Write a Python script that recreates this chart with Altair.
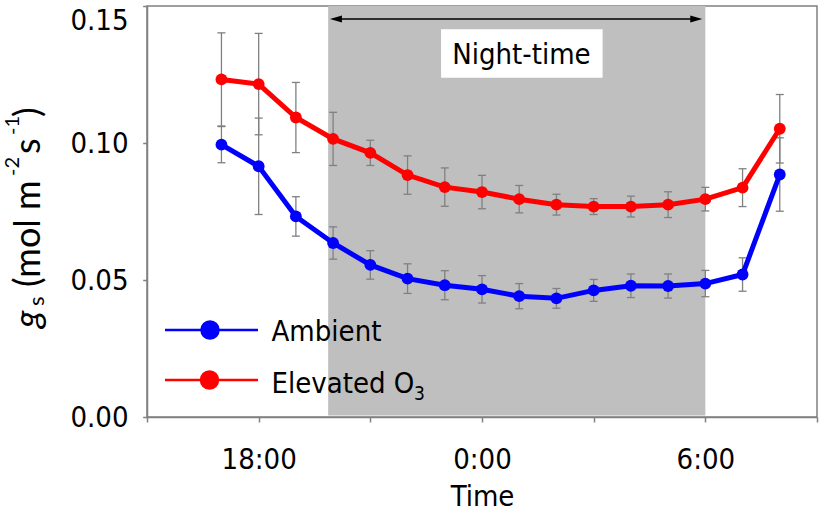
import altair as alt
import pandas as pd

# ---------------- data ----------------
time_labels = ["17:00", "18:00", "19:00", "20:00", "21:00", "22:00", "23:00", "0:00",
               "1:00", "2:00", "3:00", "4:00", "5:00", "6:00", "7:00", "8:00"]
ambient_mean = [0.0994, 0.0915, 0.0732, 0.0635, 0.0555, 0.0505, 0.0481, 0.0466,
                0.0441, 0.0433, 0.0462, 0.0479, 0.0478, 0.0487, 0.0520, 0.0885]
ambient_se = [0.0066, 0.0176, 0.0072, 0.0059, 0.0052, 0.0054, 0.0053, 0.0050,
              0.0046, 0.0036, 0.0040, 0.0043, 0.0044, 0.0048, 0.0061, 0.0134]
elevated_mean = [0.1232, 0.1215, 0.1093, 0.1015, 0.0964, 0.0883, 0.0839, 0.0821,
                 0.0795, 0.0775, 0.0768, 0.0768, 0.0775, 0.0795, 0.0837, 0.1052]
elevated_se = [0.0170, 0.0185, 0.0128, 0.0097, 0.0046, 0.0070, 0.0070, 0.0061,
               0.0050, 0.0038, 0.0029, 0.0038, 0.0047, 0.0043, 0.0069, 0.0125]
series_names = ["Ambient", "Elevated O\u2083"]
series_colors = ["#0000FF", "#FF0000"]
x_tick_hours = [0, 3, 6, 9, 12, 15, 18]          # hours since 15:00
y_tick_values = [0.0, 0.05, 0.10, 0.15]
night_start, night_end = "19:52", "6:00"
arrow_start, arrow_end = "19:55", "5:55"
night_label = "Night-time"

FONT = "DejaVu Sans Condensed, Liberation Sans, sans-serif"
TFONT = "Lato, Carlito, sans-serif"
GRAY = "#808080"
W, H = 670, 411


def hours_since_15(t):
    h, m = map(int, t.split(":"))
    return ((h - 15) % 24) + m / 60.0


rows = []
for name, means, ses in [(series_names[0], ambient_mean, ambient_se),
                         (series_names[1], elevated_mean, elevated_se)]:
    for t, m, s in zip(time_labels, means, ses):
        rows.append(dict(series=name, t=hours_since_15(t), mean=m, lo=m - s, hi=m + s))
df = pd.DataFrame(rows)

xscale = alt.Scale(domain=[0, 18], nice=False, zero=False)
yscale = alt.Scale(domain=[0, 0.15], nice=False, zero=True)
cscale = alt.Scale(domain=series_names, range=series_colors)

x_axis = alt.Axis(
    values=x_tick_hours, grid=False, tickSize=5, tickColor=GRAY, tickWidth=1.5,
    domainColor=GRAY, domainWidth=1.5,
    labelExpr="datum.value == 3 ? '18:00' : datum.value == 9 ? '0:00' : datum.value == 15 ? '6:00' : ''",
    labelFont=FONT, labelFontSize=29, labelColor="black", labelPadding=23,
    title="Time", titleFont=FONT, titleFontSize=29, titleFontWeight="normal",
    titleColor="black", titlePadding=8,
)
y_axis = alt.Axis(
    values=y_tick_values, format=".2f", grid=False, tickSize=4.3, tickColor=GRAY,
    tickWidth=1.5, domainColor=GRAY, domainWidth=1.5,
    labelFont=FONT, labelFontSize=29, labelColor="black", labelPadding=14.7,
    labelBaseline={"condition": {"test": "datum.value >= 0.149", "value": "top"}, "value": "middle"},
    title=None,
)

base = alt.Chart(df)

# night shading
night_df = pd.DataFrame({"x1": [hours_since_15(night_start)], "x2": [hours_since_15(night_end)]})
night = alt.Chart(night_df).mark_rect(color="#BFBFBF").encode(
    x=alt.X("x1:Q", scale=xscale, axis=x_axis),
    x2="x2:Q",
    y=alt.value(0),
    y2=alt.value(H - 1.5),
)

# arrow
arrow_df = pd.DataFrame({"x1": [hours_since_15(arrow_start) + 0.1],
                         "x2": [hours_since_15(arrow_end) - 0.1],
                         "y": [0.14526]})
arrow_line = alt.Chart(arrow_df).mark_rule(color="black", strokeWidth=1.5).encode(
    x=alt.X("x1:Q", scale=xscale), x2="x2:Q", y=alt.Y("y:Q", scale=yscale))
heads_df = pd.DataFrame({"x": [hours_since_15(arrow_start) + 0.16, hours_since_15(arrow_end) - 0.16],
                         "y": [0.14526, 0.14526],
                         "dir": ["L", "R"]})
head_l = alt.Chart(heads_df).transform_filter("datum.dir == 'L'").mark_point(
    shape="M-1,0L1,-0.6L1,0.6Z", filled=True, color="black", size=144, opacity=1).encode(
    x=alt.X("x:Q", scale=xscale), y=alt.Y("y:Q", scale=yscale))
head_r = alt.Chart(heads_df).transform_filter("datum.dir == 'R'").mark_point(
    shape="M1,0L-1,-0.6L-1,0.6Z", filled=True, color="black", size=144, opacity=1).encode(
    x=alt.X("x:Q", scale=xscale), y=alt.Y("y:Q", scale=yscale))

# night label box
box_df = pd.DataFrame({"x1": [7.90], "x2": [12.24], "y1": [0.1238], "y2": [0.1415],
                       "tx": [10.06], "ty": [0.1320], "label": [night_label]})
box = alt.Chart(box_df).mark_rect(color="white").encode(
    x=alt.X("x1:Q", scale=xscale), x2="x2:Q",
    y=alt.Y("y1:Q", scale=yscale), y2="y2:Q")
box_text = alt.Chart(box_df).mark_text(font=FONT, fontSize=29, color="black",
                                       align="center", baseline="middle").encode(
    x=alt.X("tx:Q", scale=xscale), y=alt.Y("ty:Q", scale=yscale), text="label:N")

# error bars
err_rule = base.mark_rule(color=GRAY, strokeWidth=1.3).encode(
    x=alt.X("t:Q", scale=xscale),
    y=alt.Y("lo:Q", scale=yscale, axis=y_axis), y2="hi:Q")
err_cap_lo = base.mark_tick(color=GRAY, orient="horizontal", size=8, thickness=1.3, opacity=1).encode(
    x=alt.X("t:Q", scale=xscale), y=alt.Y("lo:Q", scale=yscale))
err_cap_hi = base.mark_tick(color=GRAY, orient="horizontal", size=8, thickness=1.3, opacity=1).encode(
    x=alt.X("t:Q", scale=xscale), y=alt.Y("hi:Q", scale=yscale))

lines = base.mark_line(strokeWidth=5).encode(
    x=alt.X("t:Q", scale=xscale),
    y=alt.Y("mean:Q", scale=yscale),
    color=alt.Color("series:N", scale=cscale, legend=None),
    detail="series:N",
)
points = base.mark_circle(size=140, opacity=1).encode(
    x=alt.X("t:Q", scale=xscale),
    y=alt.Y("mean:Q", scale=yscale),
    color=alt.Color("series:N", scale=cscale, legend=None),
)

# hand-made legend (guide marks, pixel positions in the plot frame)
one = pd.DataFrame({"a": [0]})
legend_layers = []
leg_y = [324, 374]
leg_circle_x = [63, 62.5]
for i, (name, col) in enumerate(zip(series_names, series_colors)):
    legend_layers.append(alt.Chart(one).mark_rule(color=col, strokeWidth=2.7).encode(
        x=alt.value(18), x2=alt.value(111), y=alt.value(leg_y[i])))
    legend_layers.append(alt.Chart(one).mark_circle(color=col, size=380, opacity=1).encode(
        x=alt.value(leg_circle_x[i]), y=alt.value(leg_y[i])))
legend_layers.append(alt.Chart(one).mark_text(
    text="Ambient", font=FONT, fontSize=29, align="left", baseline="alphabetic", color="black").encode(
    x=alt.value(124.5), y=alt.value(335)))
legend_layers.append(alt.Chart(one).mark_text(
    text="Elevated O", font=FONT, fontSize=29, align="left", baseline="alphabetic", color="black").encode(
    x=alt.value(124.5), y=alt.value(387)))
legend_layers.append(alt.Chart(one).mark_text(
    text="3", font=FONT, fontSize=19, align="left", baseline="alphabetic", color="black").encode(
    x=alt.value(267), y=alt.value(394)))

# y-axis title: g_s (mol m^-2 s^-1), built from pieces, rotated
title_pieces = [
    ("g", 36, -107, 322, "italic"),
    ("s", 22, -103, 300, "normal"),
    ("(mol m", 36, -107, 281, "normal"),
    ("-2", 20, -128, 170, "normal"),
    ("s", 36, -107, 148, "normal"),
    ("-1", 20, -128, 129, "normal"),
    (")", 36, -107, 111, "normal"),
]
title_layers = []
for txt, fs, px, py, style in title_pieces:
    title_layers.append(alt.Chart(one).mark_text(
        text=txt, font=TFONT, fontSize=fs, fontStyle=style, angle=270, align="left",
        baseline="alphabetic", color="black").encode(x=alt.value(px), y=alt.value(py)))

chart = alt.layer(
    night, arrow_line, head_l, head_r, box, box_text,
    err_rule, err_cap_lo, err_cap_hi, lines, points,
    *legend_layers, *title_layers,
).properties(
    width=W, height=H,
    padding={"left": 147, "top": 6, "right": 10, "bottom": 95},
    autosize="none",
    background="white",
).configure_view(stroke=GRAY, strokeWidth=1.5)

chart.save("out.html", embed_options={"renderer": "svg", "actions": False})
